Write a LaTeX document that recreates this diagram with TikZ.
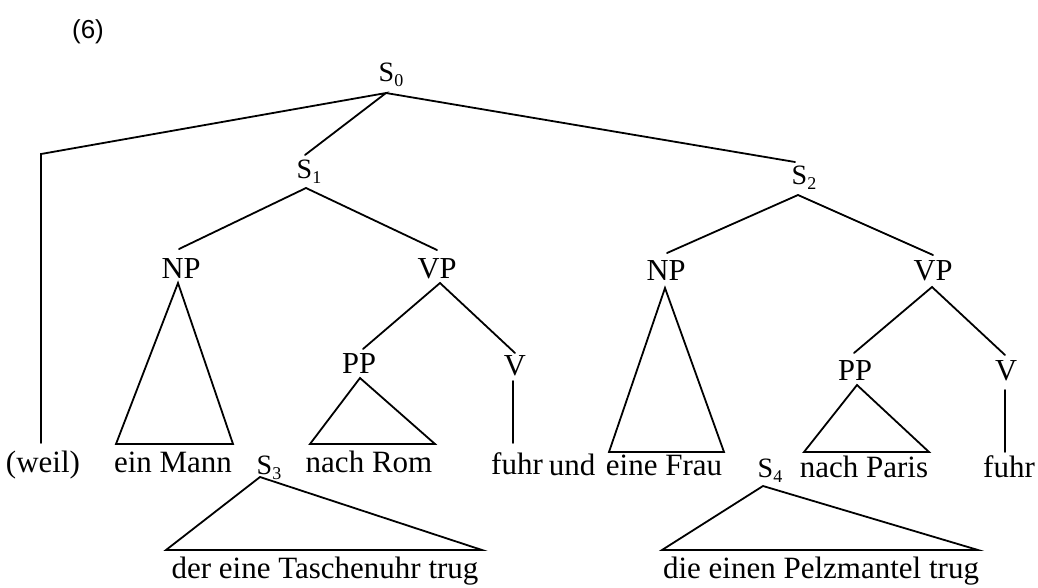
\documentclass[tikz,border=0pt]{standalone}
\usepackage{fontspec}
\setmainfont{Liberation Serif}
\newfontfamily\numfont{Liberation Sans}
\usetikzlibrary{calc}
\newcommand{\mysub}[1]{\raisebox{-5pt}{\fontsize{18}{18}\selectfont #1}}
\begin{document}
\begin{tikzpicture}[x=1pt,y=-1pt,
  lab/.style={inner sep=0pt, anchor=base, font=\fontsize{30.5}{30}\selectfont},
  leaf/.style={inner sep=0pt, anchor=base, font=\fontsize{31}{31}\selectfont},
  snode/.style={inner sep=0pt, anchor=base, font=\fontsize{28}{28}\selectfont},
  edge/.style={line width=1.8pt, line join=miter, line cap=round}]
\useasboundingbox (0,0) rectangle (1038,587);

% number
\node[inner sep=0pt, font=\numfont\fontsize{26}{26}\selectfont] (num) at (88,32) {(6)};

% category nodes
\node[snode] (S0) at (391,81) {S\mysub{0}};
\node[snode] (S1) at (309,178) {S\mysub{1}};
\node[snode] (S2) at (804,184) {S\mysub{2}};
\node[lab] (NP1) at (181,278) {NP};
\node[lab] (VP1) at (437,278) {VP};
\node[lab] (PP1) at (359,373) {PP};
\node[lab] (V1) at (515,375) {V};
\node[lab] (NP2) at (666,280) {NP};
\node[lab] (VP2) at (933,280) {VP};
\node[lab] (PP2) at (855,380) {PP};
\node[lab] (V2) at (1006,380) {V};
\node[snode] (S3) at (269,474) {S\mysub{3}};
\node[snode] (S4) at (770,477) {S\mysub{4}};

% leaves
\node[leaf] (weil) at (43,472) {(weil)};
\node[leaf] (einMann) at (173,472) {ein Mann};
\node[leaf] (nachRom) at (369,472) {nach Rom};
\node[leaf] (fuhrA) at (517,474) {fuhr};
\node[leaf] (und) at (572,475) {und};
\node[leaf] (eineFrau) at (664,475) {eine Frau};
\node[leaf] (nachParis) at (864,477) {nach Paris};
\node[leaf] (fuhrB) at (1009,477) {fuhr};
\node[leaf] (derTasche) at (325,578) {der eine Taschenuhr trug};
\node[leaf] (diePelz) at (821,578) {die einen Pelzmantel trug};

\coordinate (cw) at (41,154);

% edges from S0
\draw[edge] ($(weil.base)+(-2,-29)$) -- (cw) -- ($(S0.base)+(-5,12)$)
  -- ($(S1.base)+(-4,-23)$);
\draw[edge] ($(S0.base)+(-5,12)$) -- ($(S2.base)+(-9,-22)$);

% S1 subtree
\draw[edge] ($(NP1.base)+(-2,-29)$) -- ($(S1.base)+(-3,10)$) -- ($(VP1.base)+(0,-28)$);
\draw[edge] ($(NP1.base)+(-3,5)$) -- ($(einMann.base)+(-57,-28)$) -- ($(einMann.base)+(60,-28)$) -- cycle;
\draw[edge] ($(PP1.base)+(4,-24)$) -- ($(VP1.base)+(3,5)$) -- ($(V1.base)+(0,-22)$);
\draw[edge] ($(PP1.base)+(1,5)$) -- ($(nachRom.base)+(-59,-28)$) -- ($(nachRom.base)+(66,-28)$) -- cycle;
\draw[edge] ($(V1.base)+(-2,6)$) -- ($(fuhrA.base)+(-4,-31)$);

% S2 subtree
\draw[edge] ($(NP2.base)+(1,-27)$) -- ($(S2.base)+(-6,11)$) -- ($(VP2.base)+(0,-25)$);
\draw[edge] ($(NP2.base)+(-1,8)$) -- ($(eineFrau.base)+(-55,-23)$) -- ($(eineFrau.base)+(60,-23)$) -- cycle;
\draw[edge] ($(PP2.base)+(-1,-27)$) -- ($(VP2.base)+(-1,7)$) -- ($(V2.base)+(-1,-25)$);
\draw[edge] ($(PP2.base)+(2,5)$) -- ($(nachParis.base)+(-60,-25)$) -- ($(nachParis.base)+(65,-25)$) -- cycle;
\draw[edge] ($(V2.base)+(-1,10)$) -- ($(fuhrB.base)+(-4,-25)$);

% S3, S4 triangles
\draw[edge] ($(S3.base)+(-9,3)$) -- ($(derTasche.base)+(-159,-28)$) -- ($(derTasche.base)+(157,-28)$) -- cycle;
\draw[edge] ($(S4.base)+(-7,9)$) -- ($(diePelz.base)+(-159,-28)$) -- ($(diePelz.base)+(157,-28)$) -- cycle;
\end{tikzpicture}
\end{document}
